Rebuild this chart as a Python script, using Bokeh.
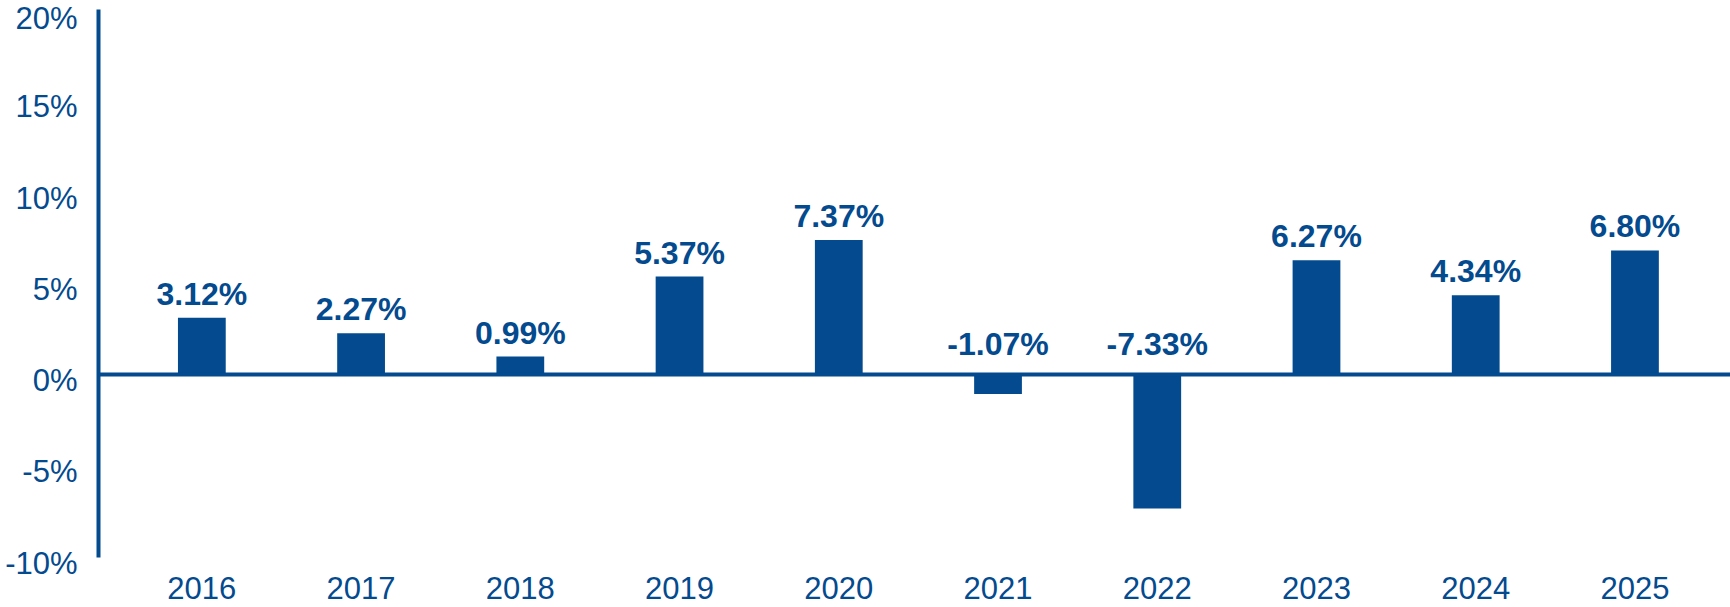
from bokeh.plotting import figure
from bokeh.models import Range1d, LinearAxis, FixedTicker, Span, ColumnDataSource
from bokeh.core.properties import value
from bokeh.embed import file_html
from bokeh.resources import INLINE

# ---- data ----
years = [2016, 2017, 2018, 2019, 2020, 2021, 2022, 2023, 2024, 2025]
returns = [3.12, 2.27, 0.99, 5.37, 7.37, -1.07, -7.33, 6.27, 4.34, 6.80]
value_labels = ["3.12%", "2.27%", "0.99%", "5.37%", "7.37%", "-1.07%", "-7.33%", "6.27%", "4.34%", "6.80%"]
y_ticks = [-10, -5, 0, 5, 10, 15, 20]
y_tick_labels = ["-10%", "-5%", "0%", "5%", "10%", "15%", "20%"]

# ---- style ----
BLUE = "#034a8e"
FONT = "Liberation Sans"
FONT_SIZE = "31px"
PX_PER_UNIT = 18.25
LABEL_SHIFT_PX = 6
shift = LABEL_SHIFT_PX / PX_PER_UNIT

y_start = min(y_ticks) - shift - 0.02
y_end = max(y_ticks)

p = figure(
    width=1730, height=607,
    x_range=Range1d(years[0] - 0.649, years[-1] + 0.6),
    y_range=Range1d(y_start, y_end),
    output_backend="svg", toolbar_location=None,
    min_border_left=98, min_border_right=0, min_border_top=9, min_border_bottom=44,
)
p.xgrid.visible = False
p.ygrid.visible = False
p.outline_line_color = None
p.background_fill_color = "white"
p.border_fill_color = "white"

# x axis (year labels)
xa = p.xaxis[0]
xa.ticker = FixedTicker(ticks=years)
xa.major_label_overrides = {y: str(y) for y in years}
xa.axis_line_color = None
xa.major_tick_line_color = None
xa.minor_tick_line_color = None
xa.major_tick_out = 0
xa.major_tick_in = 0
xa.major_label_standoff = 13
xa.major_label_text_font = FONT
xa.major_label_text_font_size = FONT_SIZE
xa.major_label_text_color = BLUE

# inner y axis: just the vertical line from -10% to 20%
ya = p.yaxis[0]
ya.ticker = FixedTicker(ticks=[])
ya.bounds = (min(y_ticks), max(y_ticks))
ya.axis_line_color = BLUE
ya.axis_line_width = 4
ya.major_tick_line_color = None
ya.minor_tick_line_color = None
ya.major_tick_out = 0
ya.major_tick_in = 0
ya.major_label_standoff = 0

# outer y axis: the percentage labels
p.extra_y_ranges = {"lab": Range1d(y_start + shift, y_end + shift)}
la = LinearAxis(
    y_range_name="lab",
    ticker=FixedTicker(ticks=y_ticks),
    major_label_overrides={t: s for t, s in zip(y_ticks, y_tick_labels)},
    axis_line_color=None,
    major_tick_line_color=None,
    minor_tick_line_color=None,
    major_tick_out=0,
    major_tick_in=0,
    major_label_standoff=21,
    major_label_text_font=FONT,
    major_label_text_font_size=FONT_SIZE,
    major_label_text_color=BLUE,
)
p.add_layout(la, "left")

src = ColumnDataSource(dict(
    year=years,
    ret=returns,
    label=value_labels,
    label_y=[max(v, 0) for v in returns],
    label_off=[-24 if v >= 0 else -31 for v in returns],
))

p.vbar(x="year", top="ret", bottom=0, width=0.30, fill_color=BLUE, line_color=None, source=src)
p.add_layout(Span(location=0, dimension="width", line_color=BLUE, line_width=4))

p.text(x="year", y="label_y", text="label", y_offset="label_off",
       text_align="center", text_baseline="alphabetic",
       text_font=value(FONT), text_font_style="bold", text_font_size="32px",
       text_color=BLUE, source=src)

open("out.html", "w").write(file_html(p, INLINE))
